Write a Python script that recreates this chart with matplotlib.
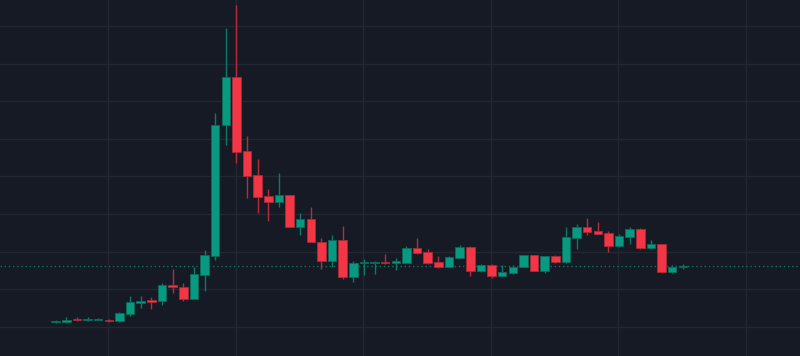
import numpy as np
import matplotlib
matplotlib.use("Agg")
import matplotlib.pyplot as plt

# OHLC values (arbitrary price units)
opens = [11.20, 11.20, 11.99, 11.86, 11.86, 11.99, 11.46, 13.46, 16.46, 17.18,
         16.83, 21.16, 20.71, 17.44, 23.82, 28.95, 63.61, 76.37, 56.78, 50.40,
         44.82, 43.14, 45.01, 36.66, 38.71, 32.67, 27.54, 33.12, 23.37, 26.93,
         27.01, 27.28, 27.01, 27.09, 31.08, 29.80, 27.20, 26.03, 28.42, 31.34,
         24.88, 26.48, 23.64, 24.27, 26.03, 29.06, 24.88, 28.87, 27.36, 33.58,
         36.50, 35.52, 35.06, 31.53, 34.00, 36.05, 30.92, 32.14, 24.70, 25.95]
highs = [11.73, 12.66, 12.53, 12.66, 12.26, 12.13, 13.99, 18.24, 18.24, 17.89,
         21.77, 25.42, 21.77, 25.87, 30.47, 66.80, 89.39, 95.59, 60.77, 54.65,
         46.68, 51.01, 45.09, 40.22, 41.97, 33.74, 34.45, 36.85, 27.54, 28.07,
         27.54, 29.40, 28.26, 31.53, 33.58, 30.65, 28.87, 28.74, 31.80, 31.53,
         26.61, 26.61, 26.48, 26.40, 29.14, 29.14, 29.00, 29.14, 36.66, 37.38,
         39.05, 37.91, 35.52, 34.72, 36.66, 36.18, 33.12, 32.19, 26.48, 26.67]
lows = [10.93, 11.06, 11.59, 11.46, 11.73, 11.20, 11.41, 12.92, 15.13, 14.78,
        15.77, 19.12, 16.99, 17.31, 19.57, 27.81, 58.38, 53.67, 44.37, 40.38,
        38.25, 41.82, 36.45, 34.45, 32.46, 25.34, 26.03, 22.76, 22.04, 23.82,
        24.01, 26.75, 25.15, 27.01, 29.40, 26.67, 25.81, 25.95, 28.34, 23.64,
        24.62, 23.10, 23.56, 24.09, 25.95, 24.75, 24.43, 27.09, 27.09, 30.65,
        34.45, 34.64, 30.01, 31.18, 32.14, 30.65, 30.86, 24.27, 24.27, 25.34]
closes = [11.52, 11.99, 11.73, 12.13, 12.13, 11.46, 13.59, 16.65, 16.99, 16.72,
          21.16, 20.55, 17.36, 24.09, 29.14, 63.69, 76.37, 56.59, 50.14, 44.63,
          43.14, 45.01, 36.66, 38.71, 32.67, 27.62, 33.12, 23.37, 27.01, 27.36,
          27.28, 27.01, 27.41, 31.08, 29.75, 26.93, 26.03, 28.61, 31.34, 24.88,
          26.48, 23.64, 24.54, 26.03, 29.06, 24.88, 28.87, 27.36, 33.84, 36.50,
          35.17, 34.80, 31.53, 34.19, 36.05, 30.92, 32.14, 24.70, 26.03, 26.08]

BG = "#161a25"
GRID = "#242733"
UP = "#089981"
DOWN = "#f23645"
UP_WICK = "#0b7a68"
DOWN_WICK = "#b52d3a"

o = np.array(opens); h = np.array(highs); l = np.array(lows); c = np.array(closes)
x = np.arange(len(o))
up = c >= o

fig = plt.figure(figsize=(8.0, 3.56), dpi=100, facecolor=BG)
ax = fig.add_axes([0, 0, 1, 1])
ax.set_facecolor(BG)

# grid
ax.set_xticks(np.arange(4.93, 70, 12))
ax.set_yticks(np.arange(10, 100, 10))
ax.grid(True, color=GRID, linewidth=1)
ax.set_axisbelow(True)
ax.tick_params(left=False, bottom=False, labelleft=False, labelbottom=False)
for s in ax.spines.values():
    s.set_visible(False)

# wicks
ax.vlines(x[up], l[up], h[up], color=UP_WICK, linewidth=1, zorder=2)
ax.vlines(x[~up], l[~up], h[~up], color=DOWN_WICK, linewidth=1, zorder=2)

# bodies
bottom = np.minimum(o, c)
height = np.maximum(np.abs(c - o), 0.3)
ax.bar(x[up], height[up], bottom=bottom[up], width=0.8, color=UP,
       edgecolor="#0a6b5a", linewidth=0.6, zorder=3)
ax.bar(x[~up], height[~up], bottom=bottom[~up], width=0.8, color=DOWN,
       edgecolor="#a82a36", linewidth=0.6, zorder=3)

# last price line
ax.axhline(closes[-1], color="#0b7565", linestyle=(0, (1, 2)), linewidth=1,
           zorder=1.5)

ax.set_xlim(-5.24, 70.02)
ax.set_ylim(2.29, 96.91)

fig.savefig("out.png", dpi=100, facecolor=BG)
